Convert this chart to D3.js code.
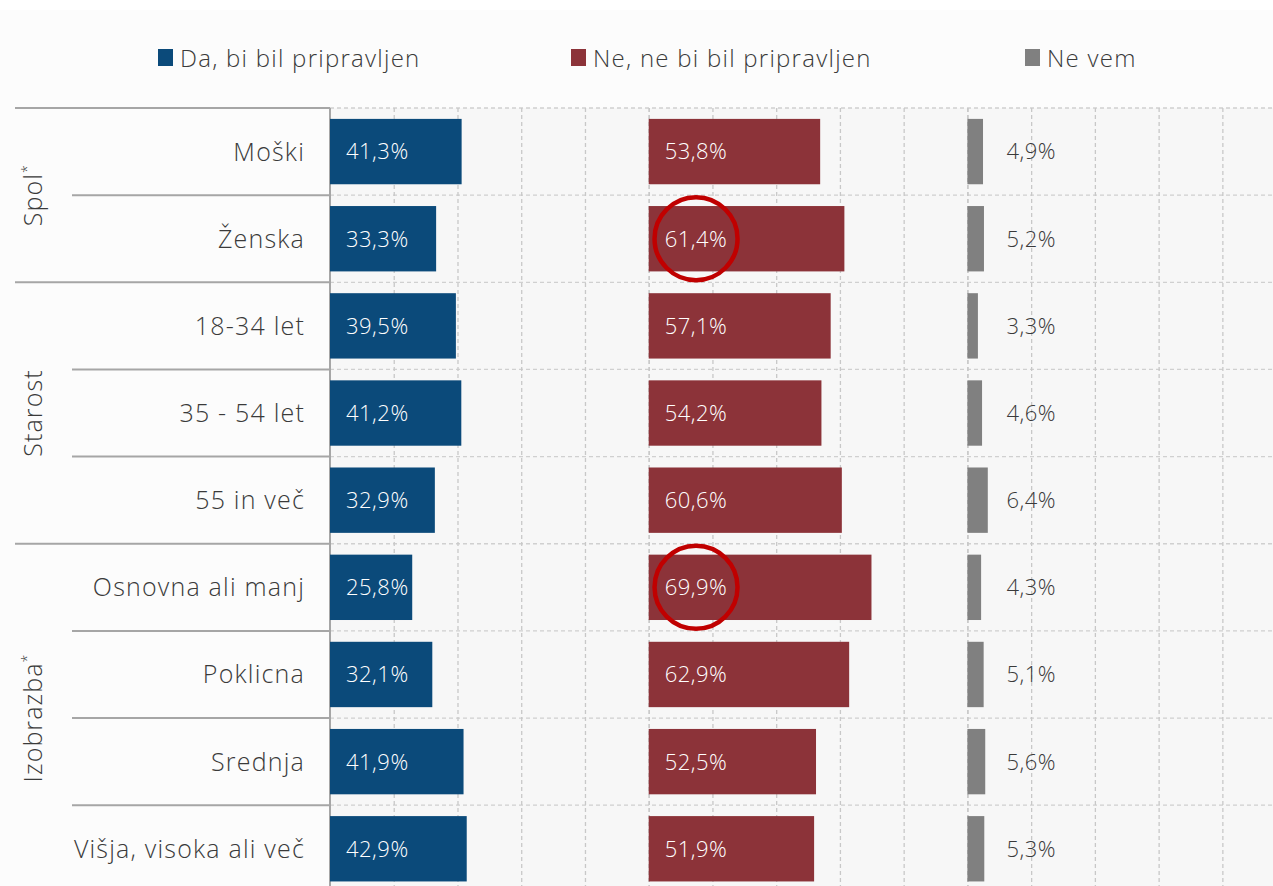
<!DOCTYPE html>
<html><head><meta charset="utf-8">
<script src="https://cdn.jsdelivr.net/npm/d3@7"></script>
<style>
html,body{margin:0;padding:0;background:#fff;}
svg{display:block;}
text{font-family:"Open Sans","Noto Sans",sans-serif;font-weight:350;}
</style></head>
<body>
<svg id="chart" width="1273" height="886"></svg>
<script>
const categories = ["Moški","Ženska","18-34 let","35 - 54 let","55 in več","Osnovna ali manj","Poklicna","Srednja","Višja, visoka ali več"];
const groupNames = ["Spol","Starost","Izobrazba"];
const groupStars = [true,false,true];
const groupSizes = [2,3,4];
const seriesNames = ["Da, bi bil pripravljen","Ne, ne bi bil pripravljen","Ne vem"];
const yesValues = [41.3,33.3,39.5,41.2,32.9,25.8,32.1,41.9,42.9];
const noValues  = [53.8,61.4,57.1,54.2,60.6,69.9,62.9,52.5,51.9];
const dkValues  = [4.9,5.2,3.3,4.6,6.4,4.3,5.1,5.6,5.3];
const tickValues = [0,20,40,60,80,100];
const highlighted = ["Ženska","Osnovna ali manj"];

const colors = ["#0b4a7a","#8c3339","#808080"];
const series = [yesValues,noValues,dkValues];

const W=1273,H=886;
const plotLeft=330, panelW=318.7, plotTop=108, bandH=87.15;
const svg=d3.select("#chart");

// backgrounds
svg.append("rect").attr("x",0).attr("y",10).attr("width",W).attr("height",H-10).attr("fill","#fcfcfc");
svg.append("rect").attr("x",plotLeft).attr("y",plotTop).attr("width",W-plotLeft).attr("height",H-plotTop).attr("fill","#f7f7f7");

const y=d3.scaleBand().domain(categories).range([plotTop,plotTop+bandH*categories.length]).paddingInner(0.25).paddingOuter(0.125);
const xs=series.map((s,i)=>d3.scaleLinear().domain([0,100]).range([plotLeft+panelW*i,plotLeft+panelW*(i+1)]));

// grid: horizontal dashed lines at band boundaries
const bounds=d3.range(categories.length+1).map(i=>plotTop+bandH*i);
svg.append("g").selectAll("line").data(bounds).join("line")
  .attr("x1",plotLeft).attr("x2",W).attr("y1",d=>d).attr("y2",d=>d)
  .attr("stroke","#d0d0d0").attr("stroke-width",1.3).attr("stroke-dasharray","4,3");

// vertical dashed gridlines from axes
xs.forEach((x,i)=>{
  const g=svg.append("g").attr("transform",`translate(0,${plotTop})`)
    .call(d3.axisBottom(x).tickValues(tickValues.filter(t=>!(i===0&&t===0))).tickSize(H-plotTop).tickFormat(""));
  g.select(".domain").remove();
  g.selectAll(".tick line").attr("stroke","#c8c8c8").attr("stroke-width",1.3).attr("stroke-dasharray","4,3");
});

// left label area lines
let start=0;
const groupInfo=groupSizes.map(n=>{const o={start,n};start+=n;return o;});
const lineCol="#a6a6a6";
groupInfo.forEach(gi=>{
  svg.append("line").attr("x1",15).attr("x2",plotLeft).attr("y1",bounds[gi.start]).attr("y2",bounds[gi.start])
    .attr("stroke",lineCol).attr("stroke-width",2);
  for(let k=1;k<gi.n;k++){
    svg.append("line").attr("x1",72).attr("x2",plotLeft).attr("y1",bounds[gi.start+k]).attr("y2",bounds[gi.start+k])
      .attr("stroke",lineCol).attr("stroke-width",2);
  }
});
// y axis line
svg.append("line").attr("x1",plotLeft).attr("x2",plotLeft).attr("y1",plotTop).attr("y2",H).attr("stroke",lineCol).attr("stroke-width",2);

// category labels
svg.append("g").selectAll("text").data(categories).join("text")
  .attr("x",305).attr("y",d=>y(d)+y.bandwidth()/2).attr("dy","0.36em")
  .attr("text-anchor","end").attr("font-size",25).attr("letter-spacing","1.2px").attr("fill","#3a3a3a").text(d=>d);

// group labels
groupInfo.forEach((gi,i)=>{
  const cy=(bounds[gi.start]+bounds[gi.start+gi.n])/2;
  const t=svg.append("text").attr("transform",`translate(33,${cy}) rotate(-90)`)
    .attr("text-anchor","middle").attr("dy","0.36em").attr("font-size",25).attr("letter-spacing","1.1px").attr("fill","#3a3a3a");
  t.append("tspan").text(groupNames[i]);
  if(groupStars[i]) t.append("tspan").attr("font-size",14).attr("dy","-0.7em").text("*");
});

const fmt=v=>d3.format(".1f")(v).replace(".",",")+"%";

// bars
series.forEach((vals,i)=>{
  const x=xs[i];
  const g=svg.append("g");
  g.selectAll("rect").data(categories).join("rect")
    .attr("x",x(0)).attr("y",d=>y(d)).attr("height",y.bandwidth())
    .attr("width",(d,j)=>x(vals[j])-x(0)).attr("fill",colors[i]);
  g.selectAll("text").data(categories).join("text")
    .attr("x",x(0)+(i===2?39:16)).attr("y",d=>y(d)+y.bandwidth()/2).attr("dy","0.36em")
    .attr("font-size",22).attr("letter-spacing","0.5px").attr("fill",i===2?"#3a3a3a":"#ffffff")
    .attr("class",(d)=>highlighted.includes(d)&&i===1?"hl":null)
    .text((d,j)=>fmt(vals[j]));
});

// highlight circles around labels
svg.selectAll("text.hl").each(function(){
  const b=this.getBBox();
  svg.append("circle").attr("cx",b.x+b.width/2).attr("cy",b.y+b.height/2+1).attr("r",41.5)
    .attr("fill","none").attr("stroke","#c00000").attr("stroke-width",4.5);
});

// legend
const legendX=[158,571,1025];
seriesNames.forEach((n,i)=>{
  svg.append("rect").attr("x",legendX[i]).attr("y",49).attr("width",15).attr("height",17).attr("fill",colors[i]);
  svg.append("text").attr("x",legendX[i]+22).attr("y",58).attr("dy","0.36em")
    .attr("font-size",24).attr("letter-spacing","1.25px").attr("fill","#3a3a3a").text(n);
});
</script>
</body></html>
